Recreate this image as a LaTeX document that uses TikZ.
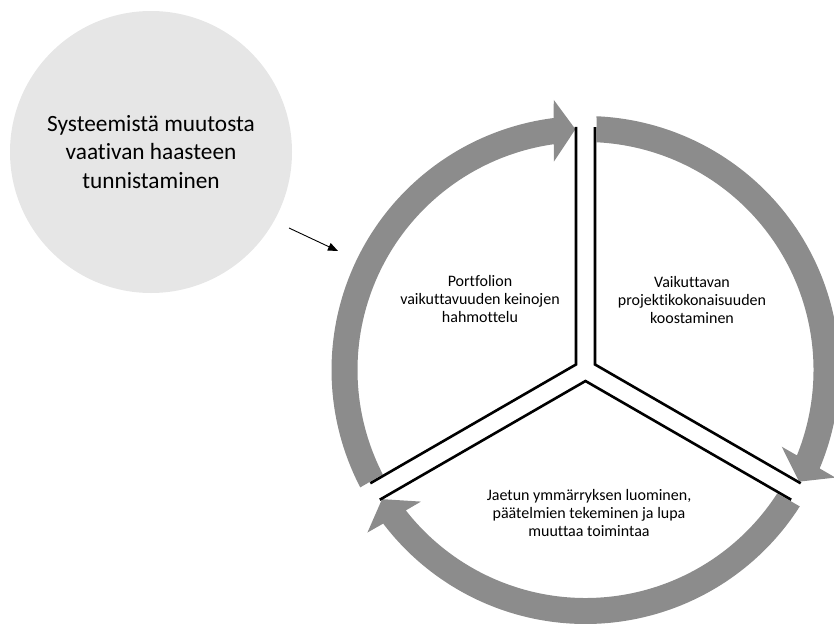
\documentclass[tikz,border=0pt]{standalone}
\usepackage{fontspec}
\setmainfont{Carlito}[Ligatures=NoCommon]
\usetikzlibrary{arrows.meta,calc}
\definecolor{ringgrey}{RGB}{140,140,140}
\definecolor{discgrey}{RGB}{230,230,230}
\tikzset{
  ringarrow/.style={fill=ringgrey},
  divider/.style={draw=black, line width=2.6pt, line join=miter},
  steptext/.style={align=center, font=\fontsize{16}{18.2}\selectfont, inner sep=0pt},
  disc/.style={circle, fill=discgrey, minimum size=282pt, align=center, inner sep=0pt,
    font=\fontsize{23.3}{28.5}\selectfont},
  pointer/.style={-{Triangle[length=10pt,width=8pt]}, line width=0.9pt}
}
\begin{document}
\begin{tikzpicture}[x=1pt,y=1pt]
\useasboundingbox (0,0) rectangle (834,-623);
\clip (0,0) rectangle (834,-623);
\coordinate (C) at (585.5,-370);
% ring arrows
\foreach \r in {0,-120,-240}{
  \begin{scope}[shift={(C)}, rotate=\r]
    \fill[ringarrow] (87.52:254) arc[start angle=87.52, end angle=-22.8, radius=254]
      -- (-23.3:272) -- (-27.6:241) -- (-21.35:210.7) -- (-22:228)
      arc[start angle=-22, end angle=87.23, radius=228] -- cycle;
  \end{scope}
}
% divider double lines
\foreach \r in {0,-120,-240}{
  \begin{scope}[shift={(C)}, rotate=\r]
    \draw[divider] (9.5,243) -- (30:11) -- (215.2,-113.3);
  \end{scope}
}
% texts
\node[steptext] (t1) at (480,-299) {Portfolion\\vaikuttavuuden keinojen\\hahmottelu};
\node[steptext] (t2) at (692,-300) {Vaikuttavan\\projektikokonaisuuden\\koostaminen};
\node[steptext] (t3) at (589,-513) {Jaetun ymmärryksen luominen,\\päätelmien tekeminen ja lupa\\muuttaa toimintaa};
% big disc
\node[disc] (challenge) at (151,-152) {Systeemistä muutosta\\vaativan haasteen\\tunnistaminen};
% pointer
\coordinate (a0) at (289,-228);
\coordinate (a1) at (338,-251);
\draw[pointer] (a0) -- (a1);
\end{tikzpicture}
\end{document}
